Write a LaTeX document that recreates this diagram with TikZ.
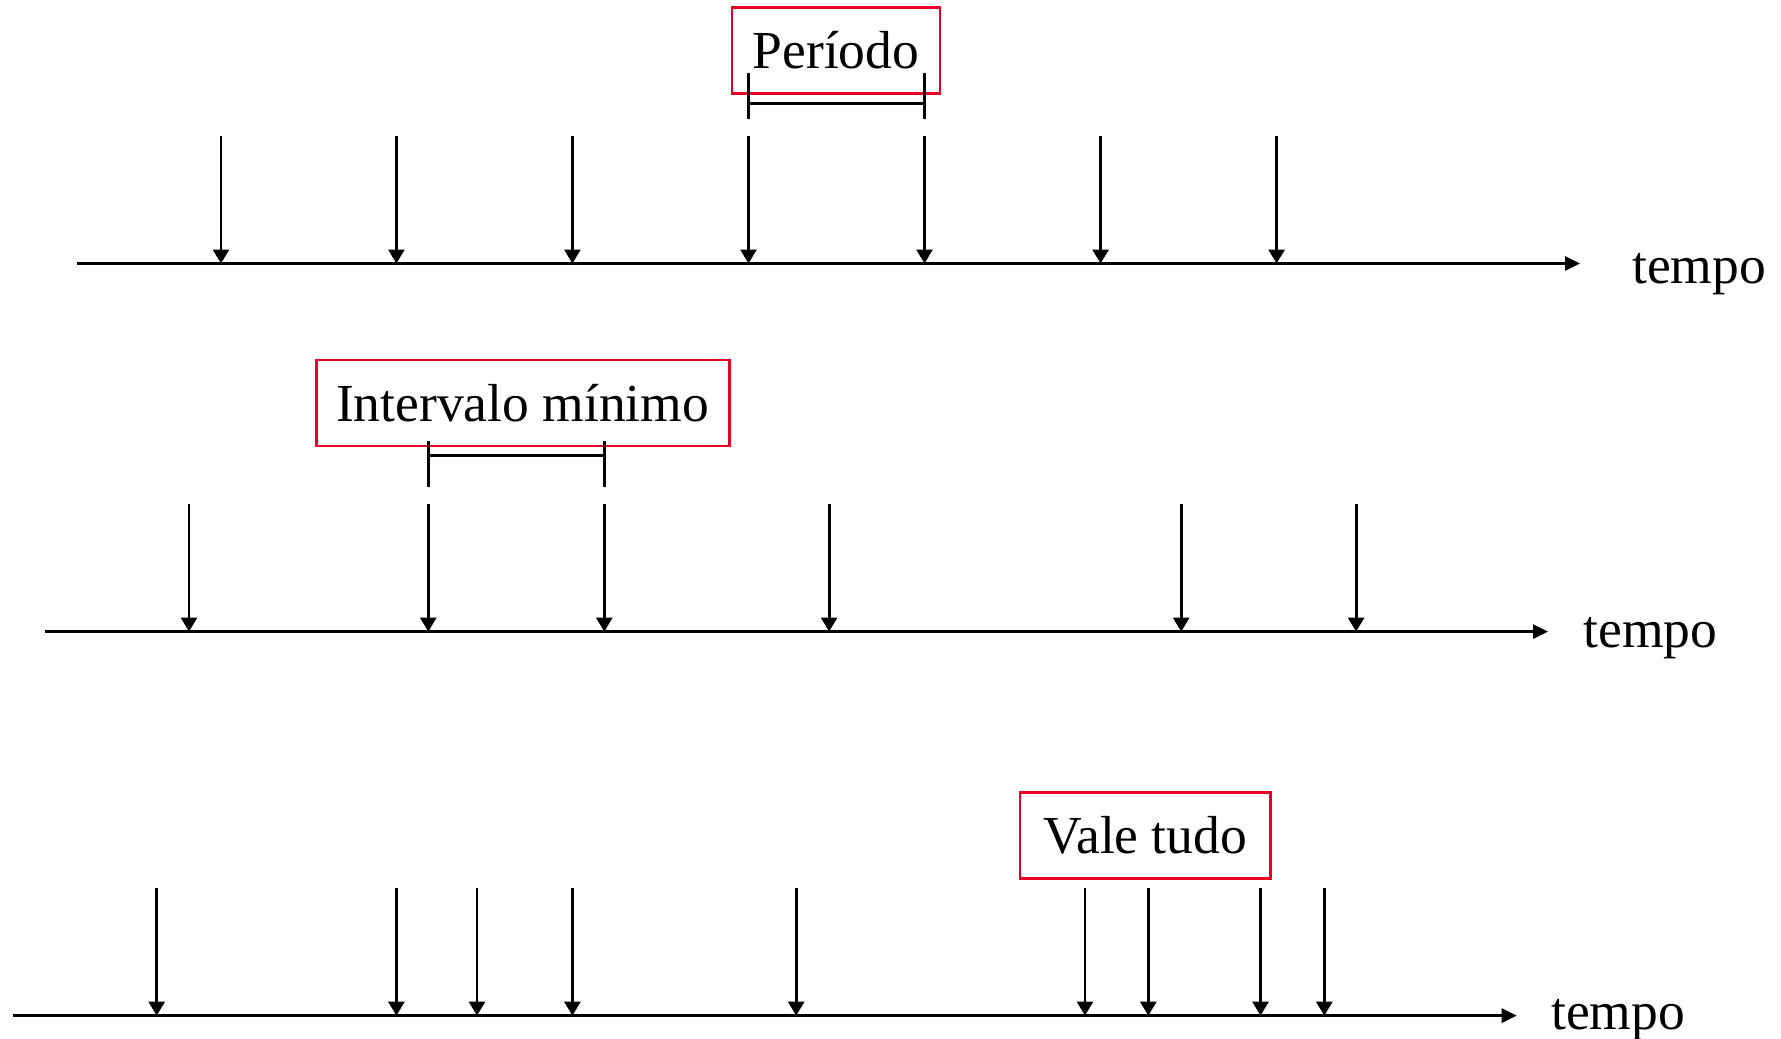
\documentclass[tikz,border=0pt]{standalone}
\usepackage{fontspec}
\setmainfont{Liberation Serif}
\usetikzlibrary{arrows.meta}
\definecolor{boxred}{RGB}{232,0,40}
\begin{document}
\begin{tikzpicture}[x=1pt,y=-1pt,
  bar/.style={line width=2.8pt},
  tickarrow/.style={line width=2.8pt,-{Triangle[length=14pt,width=16pt]}},
  axisarrow/.style={line width=2.8pt,-{Triangle[length=15pt,width=14pt]}},
  redlabel/.style={draw=boxred,line width=2.8pt,font=\fontsize{53.5}{60}\selectfont,inner sep=0pt,minimum height=86pt},
  tlabel/.style={font=\fontsize{53.5}{60}\selectfont,anchor=base,inner sep=0pt}]
\useasboundingbox (0,0) rectangle (1781,1039);

% ---------- Row 1 ----------
\coordinate (s1) at (77,263.5);
\coordinate (e1) at (1580,263.5);
\draw[axisarrow] (s1) -- (e1);
\node[tlabel] (t1) at (1699,283) {tempo};
\foreach \x [count=\i] in {221,396.4,572.4,748.5,924.5,1100.6,1276.6}{
  \coordinate (r1t\i) at (\x,136);
  \coordinate (r1b\i) at (\x,263.5);
  \draw[tickarrow] (r1t\i) -- (r1b\i);
}
\node[redlabel,minimum width=208pt] (per) at (836,50.3) {Período};
\coordinate (pa1) at (748.5,72.7); \coordinate (pa2) at (748.5,119.3);
\coordinate (pb1) at (924.5,72.7); \coordinate (pb2) at (924.5,119.3);
\coordinate (pc1) at (748.5,103.3); \coordinate (pc2) at (924.5,103.3);
\draw[bar] (pa1) -- (pa2);
\draw[bar] (pb1) -- (pb2);
\draw[bar] (pc1) -- (pc2);

% ---------- Row 2 ----------
\coordinate (s2) at (45.4,631.6);
\coordinate (e2) at (1548,631.6);
\draw[axisarrow] (s2) -- (e2);
\node[tlabel] (t2) at (1650.5,647) {tempo};
\foreach \x [count=\i] in {189,428.3,604.3,829.1,1181.2,1356.1}{
  \coordinate (r2t\i) at (\x,504);
  \coordinate (r2b\i) at (\x,631.6);
  \draw[tickarrow] (r2t\i) -- (r2b\i);
}
\node[redlabel,minimum width=413pt] (int) at (522.6,403) {Intervalo mínimo};
\coordinate (ia1) at (428.3,440.7); \coordinate (ia2) at (428.3,486.7);
\coordinate (ib1) at (604.3,440.7); \coordinate (ib2) at (604.3,486.7);
\coordinate (ic1) at (428.3,455.5); \coordinate (ic2) at (604.3,455.5);
\draw[bar] (ia1) -- (ia2);
\draw[bar] (ib1) -- (ib2);
\draw[bar] (ic1) -- (ic2);

% ---------- Row 3 ----------
\coordinate (s3) at (13.3,1015.6);
\coordinate (e3) at (1516.7,1015.6);
\draw[axisarrow] (s3) -- (e3);
\node[tlabel] (t3) at (1618,1029) {tempo};
\foreach \x [count=\i] in {156.7,396.4,477,572.4,796.2,1085,1148.3,1260.5,1324.3}{
  \coordinate (r3t\i) at (\x,888.3);
  \coordinate (r3b\i) at (\x,1015.6);
  \draw[tickarrow] (r3t\i) -- (r3b\i);
}
\node[redlabel,minimum width=250.7pt] (vt) at (1145.3,835.5) {Vale tudo};
\end{tikzpicture}
\end{document}
